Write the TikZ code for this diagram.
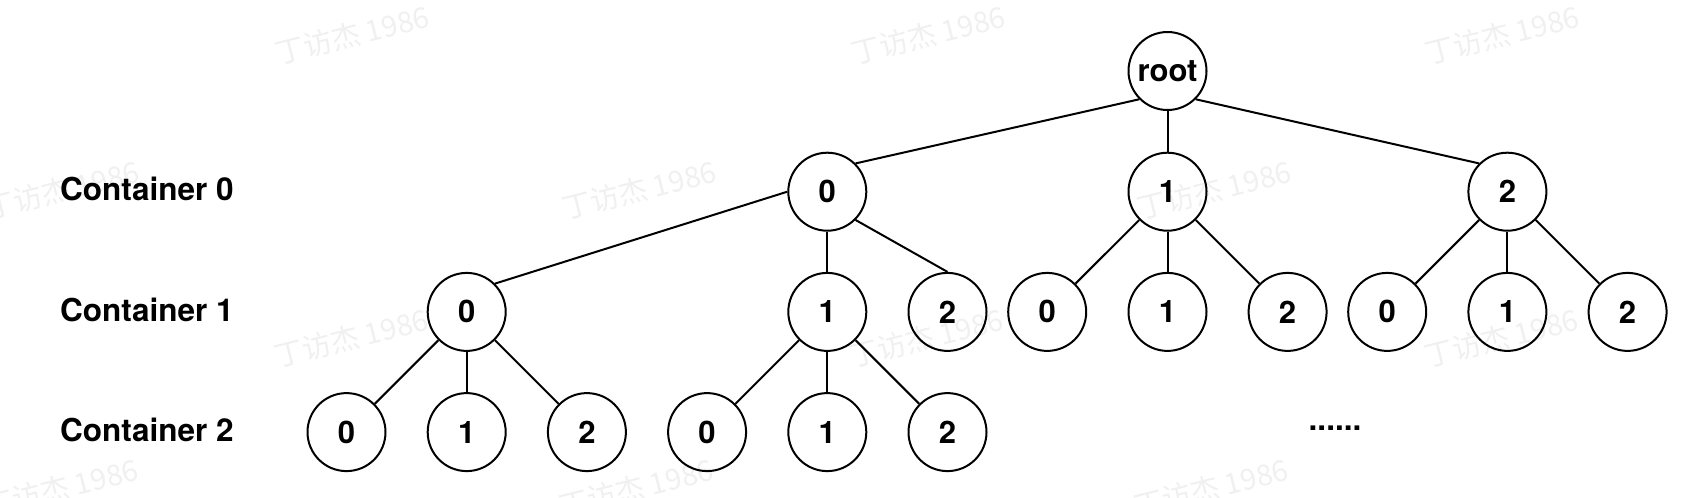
\documentclass[tikz,border=0pt]{standalone}
\usepackage{fontspec}
\setmainfont{TeX Gyre Heros}
\newfontfamily\cjk{Noto Sans CJK SC}
\begin{document}
\begin{tikzpicture}[x=1pt,y=-1pt,
  nd/.style={circle,draw,line width=2pt,minimum size=78pt,inner sep=0pt,font=\fontsize{31}{36}\selectfont\bfseries},
  lbl/.style={anchor=west,inner sep=0pt,font=\fontsize{31.5}{36}\selectfont\bfseries},
  edge/.style={line width=2pt},
  wm/.style={rotate=14,inner sep=0pt,text=black!6,font=\cjk\fontsize{29}{34}\selectfont}]
\useasboundingbox (0,0) rectangle (1698,498);
% watermarks
\foreach \x/\y [count=\i] in {352/35,928/35,1502/35,62/190,639/190,1214/190,351/338,926/338,1501/338,61/488,636/488,1211/488}
  \node[wm] (w\i) at (\x,\y) {丁访杰 1986};
% labels
\node[lbl] (l0) at (60,189) {Container 0};
\node[lbl] (l1) at (60,310) {Container 1};
\node[lbl] (l2) at (60,430) {Container 2};
% nodes
\node[nd] (r) at (1167.5,71) {root};
\node[nd] (a0) at (827.3,191.7) {0};
\node[nd] (a1) at (1167.5,191.7) {1};
\node[nd] (a2) at (1507.4,191.7) {2};
\node[nd] (b0) at (466.7,311.9) {0};
\node[nd] (b1) at (827.3,311.9) {1};
\node[nd] (b2) at (947.5,311.9) {2};
\node[nd] (b3) at (1047.2,311.9) {0};
\node[nd] (b4) at (1167.5,311.9) {1};
\node[nd] (b5) at (1287.6,311.9) {2};
\node[nd] (b6) at (1387.2,311.9) {0};
\node[nd] (b7) at (1507.4,311.9) {1};
\node[nd] (b8) at (1627.6,311.9) {2};
\node[nd] (c0) at (346.5,432.1) {0};
\node[nd] (c1) at (466.7,432.1) {1};
\node[nd] (c2) at (586.9,432.1) {2};
\node[nd] (c3) at (707.1,432.1) {0};
\node[nd] (c4) at (827.3,432.1) {1};
\node[nd] (c5) at (947.5,432.1) {2};
\node[inner sep=0pt,font=\fontsize{31.5}{36}\selectfont\bfseries] (dots) at (1335,428) {......};
% edges
\draw[edge] (r.south west) -- (a0.north east);
\draw[edge] (r) -- (a1);
\draw[edge] (r.south east) -- (a2.north west);
\draw[edge] (a0.west) -- (b0.north east);
\draw[edge] (a0) -- (b1);
\draw[edge] (a0.south east) -- (b2.north);
\foreach \a/\b in {a1/b3,a1/b4,a1/b5,a2/b6,a2/b7,a2/b8,b0/c0,b0/c1,b0/c2,b1/c3,b1/c4,b1/c5}
  \draw[edge] (\a) -- (\b);
\end{tikzpicture}
\end{document}
